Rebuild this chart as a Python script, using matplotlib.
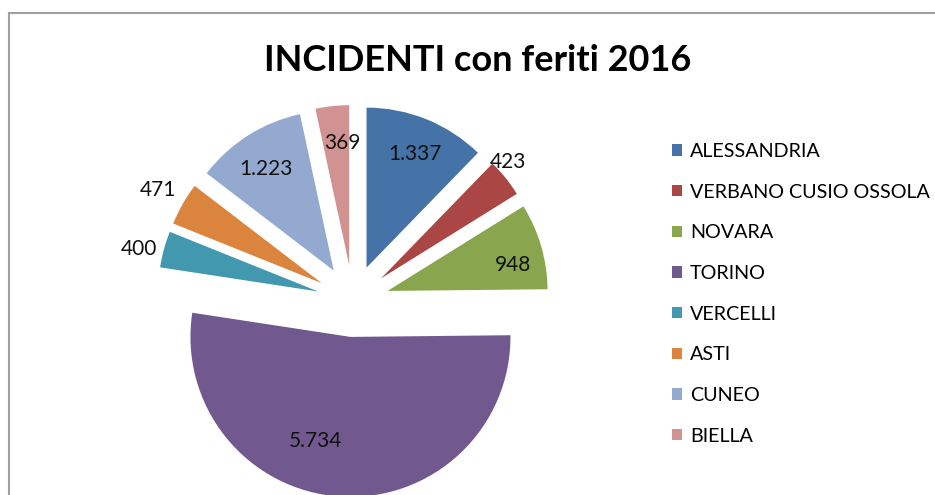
import matplotlib
matplotlib.use("Agg")
import matplotlib.pyplot as plt
import numpy as np
from matplotlib.patches import Patch
from matplotlib.lines import Line2D

# ---- data ----
provinces = ["ALESSANDRIA", "VERBANO CUSIO OSSOLA", "NOVARA", "TORINO",
             "VERCELLI", "ASTI", "CUNEO", "BIELLA"]
incidents = [1337, 423, 948, 5734, 400, 471, 1223, 369]
title = "INCIDENTI con feriti 2016"

# ---- style ----
colors = ["#4572A7", "#AA4643", "#89A54E", "#71588F",
          "#4198AF", "#DB843D", "#93A9CF", "#D19392"]
label_dist = [0.77, 1.08, 0.80, 0.69, 1.15, 1.18, 0.76, 0.765]
label_shift = [-1.2, 3.6, -4.5, -14.7, 1.9, 0.0, 1.3, -3.0]  # degrees (ccw)

W, H = 935, 495
DPI = 100
FONT = "Lato"

fig = plt.figure(figsize=(W / DPI, H / DPI), dpi=DPI)
fig.patch.set_facecolor("white")
ax = fig.add_axes([0, 0, 1, 1])

R_PX = 160.0   # pie radius in pixels
CX, CY = 353.0, 301.0  # pie centre (pixels from top-left)

wedges, _ = ax.pie(incidents, colors=colors, startangle=90, counterclock=False,
                   explode=[0.225] * len(incidents), radius=1.0,
                   wedgeprops=dict(linewidth=0))

ax.set_xlim(-CX / R_PX, (W - CX) / R_PX)
ax.set_ylim(-(H - CY) / R_PX, CY / R_PX)
ax.set_aspect("auto")
ax.axis("off")

def fmt(v):
    return f"{v:,}".replace(",", ".")

for w, v, d, s in zip(wedges, incidents, label_dist, label_shift):
    ang = np.deg2rad((w.theta1 + w.theta2) / 2 + s)
    cx, cy = w.center
    ax.text(cx + d * np.cos(ang), cy + d * np.sin(ang), fmt(v),
            ha="center", va="center", fontsize=15, family=FONT, color="#111111")

def px(x, y):
    return x / W, 1 - y / H

# title
tx, ty = px(478, 71)
fig.text(tx, ty, title, ha="center", va="baseline", fontsize=26,
         fontweight="bold", family=FONT, color="black")

# border (top and left)
fig.add_artist(Line2D([9 / W, 1], [1 - 13 / H, 1 - 13 / H], color="#A0A0A0",
                      lw=1.5, transform=fig.transFigure))
fig.add_artist(Line2D([9 / W, 9 / W], [1 - 13 / H, 0], color="#A0A0A0",
                      lw=1.5, transform=fig.transFigure))

# legend
handles = [Patch(facecolor=c, edgecolor="none") for c in colors]
lx, ly = px(672, 143)
leg = fig.legend(handles, provinces, loc="upper left", bbox_to_anchor=(lx, ly),
                 frameon=False, borderpad=0, borderaxespad=0,
                 handlelength=0.5, handleheight=0.5, handletextpad=0.4,
                 labelspacing=1.2, prop=dict(family=FONT, size=14.2))

fig.savefig("out.png", dpi=DPI, facecolor="white")
